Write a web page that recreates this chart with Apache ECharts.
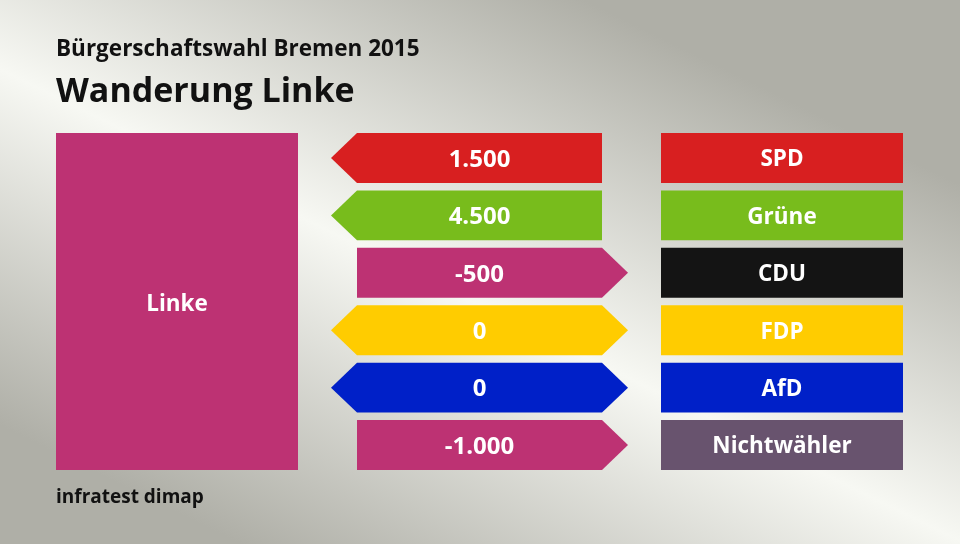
<!DOCTYPE html>
<html>
<head>
<meta charset="utf-8">
<script src="https://cdn.jsdelivr.net/npm/echarts@6/dist/echarts.min.js"></script>
<style>html,body{margin:0;padding:0;}#c{width:960px;height:544px;}</style>
</head>
<body>
<div id="c"></div>
<script>
// ---- data ----
var supertitle = 'Bürgerschaftswahl Bremen 2015';
var title = 'Wanderung Linke';
var source = 'infratest dimap';
var focusParty = 'Linke';
var focusColor = '#bd3273';
var parties = ['SPD', 'Grüne', 'CDU', 'FDP', 'AfD', 'Nichtwähler'];
var values = [1500, 4500, -500, 0, 0, -1000];
var partyColors = ['#d81f20', '#78bc1c', '#141414', '#ffcc00', '#0020c8', '#68536e'];

function fmt(v) {
  var s = String(Math.abs(v)).replace(/\B(?=(\d{3})+(?!\d))/g, '.');
  return (v < 0 ? '-' : '') + s;
}
var FONT = '"Open Sans", sans-serif';

var chart = echarts.init(document.getElementById('c'));

var rowData = parties.map(function (p, i) { return [i, values[i]]; });

var option = {
  animation: false,
  graphic: [{
    type: 'rect', z: -10, silent: true,
    shape: { x: 0, y: 0, width: 960, height: 544 },
    style: {
      fill: {
        type: 'linear', global: true, x: 621, y: 18, x2: 339, y2: 592,
        colorStops: [
          { offset: 0, color: '#afafa7' },
          { offset: 0.5, color: '#f7f8f3' },
          { offset: 1, color: '#afafa7' }
        ]
      }
    }
  }],
  title: [
    { text: supertitle, left: 56, top: 38, textStyle: { fontFamily: FONT, fontWeight: 'bold', fontSize: 22.5, color: '#111' }, padding: 0 },
    { text: title, left: 56, top: 75, textStyle: { fontFamily: FONT, fontWeight: 'bold', fontSize: 34, color: '#111' }, padding: 0 },
    { text: source, left: 56, top: 488, textStyle: { fontFamily: FONT, fontWeight: 'bold', fontSize: 19, color: '#111' }, padding: 0 }
  ],
  grid: { left: 56, right: 57, top: 129.25, bottom: 70.25 },
  xAxis: { type: 'value', min: 0, max: 847, show: false },
  yAxis: { type: 'category', data: parties, inverse: true, show: false },
  series: [
    {
      // focus party box spanning all rows
      type: 'custom',
      data: [[0, parties.length - 1]],
      renderItem: function (params, api) {
        var top = api.coord([0, 0]);
        var bot = api.coord([242, parties.length - 1]);
        var h = api.size([0, 1])[1] * 0.87;
        var y0 = top[1] - h / 2, y1 = bot[1] + h / 2;
        return {
          type: 'group', children: [
            { type: 'rect', shape: { x: top[0], y: y0, width: bot[0] - top[0], height: y1 - y0 }, style: { fill: focusColor } },
            { type: 'text', style: { text: focusParty, x: (top[0] + bot[0]) / 2, y: (y0 + y1) / 2 + 3, align: 'center', verticalAlign: 'middle', fill: '#fff', fontFamily: FONT, fontWeight: 'bold', fontSize: 22.5 } }
          ]
        };
      }
    },
    {
      // arrows
      type: 'custom',
      data: rowData,
      renderItem: function (params, api) {
        var i = api.value(0), v = api.value(1);
        var a = api.coord([301, i]), b = api.coord([546, i]);
        var h = api.size([0, 1])[1] * 0.87;
        var tip = api.size([26, 0])[0];
        var y0 = a[1] - h / 2, y1 = a[1] + h / 2, cy = a[1];
        var left = v >= 0, right = v <= 0;
        var pts = [];
        pts.push([a[0], y0], [b[0], y0]);
        if (right) pts.push([b[0] + tip, cy]);
        pts.push([b[0], y1], [a[0], y1]);
        if (left) pts.push([a[0] - tip, cy]);
        var col = v < 0 ? focusColor : partyColors[i];
        return {
          type: 'group', children: [
            { type: 'polygon', shape: { points: pts }, style: { fill: col } },
            { type: 'text', style: { text: fmt(v), x: (a[0] + b[0]) / 2, y: cy + 2, align: 'center', verticalAlign: 'middle', fill: '#fff', fontFamily: FONT, fontWeight: 'bold', fontSize: 24 } }
          ]
        };
      }
    },
    {
      // party boxes
      type: 'custom',
      data: rowData,
      renderItem: function (params, api) {
        var i = api.value(0);
        var a = api.coord([605, i]), b = api.coord([847, i]);
        var h = api.size([0, 1])[1] * 0.87;
        return {
          type: 'group', children: [
            { type: 'rect', shape: { x: a[0], y: a[1] - h / 2, width: b[0] - a[0], height: h }, style: { fill: partyColors[i] } },
            { type: 'text', style: { text: parties[i], x: (a[0] + b[0]) / 2, y: a[1] + 2, align: 'center', verticalAlign: 'middle', fill: '#fff', fontFamily: FONT, fontWeight: 'bold', fontSize: 22.5 } }
          ]
        };
      }
    }
  ]
};
chart.setOption(option);
</script>
</body>
</html>
